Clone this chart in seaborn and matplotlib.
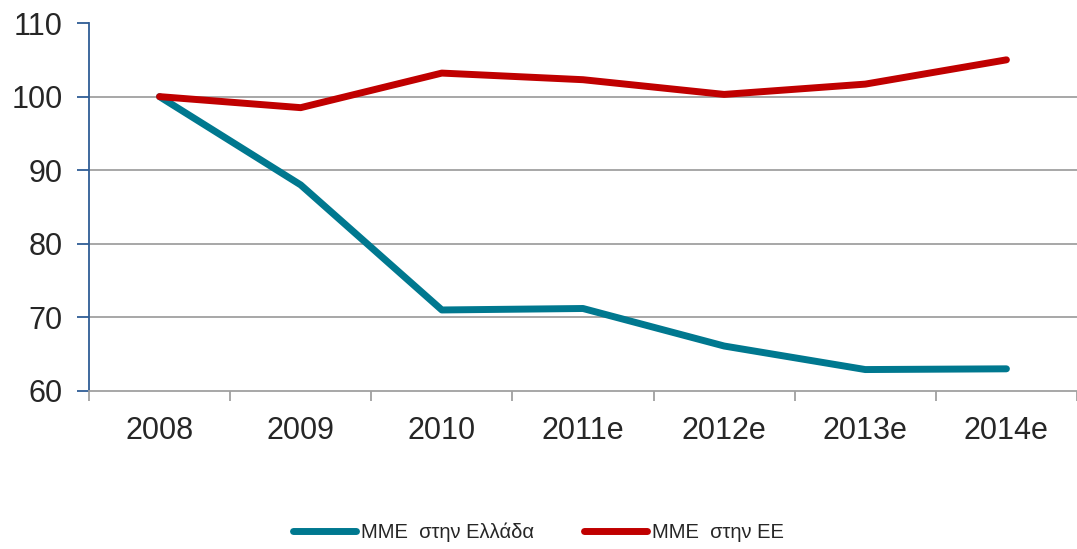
import pandas as pd
import matplotlib.pyplot as plt
import seaborn as sns

years = ['2008', '2009', '2010', '2011e', '2012e', '2013e', '2014e']
greece = [100, 88, 71, 71.2, 66.1, 62.9, 63.0]
eu = [100, 98.5, 103.2, 102.3, 100.3, 101.7, 105.0]
series_names = ['ΜΜΕ  στην Ελλάδα', 'ΜΜΕ  στην ΕΕ']
colors = ['#00788F', '#C00000']

df = pd.DataFrame({
    'x': list(range(len(years))) * 2,
    'value': greece + eu,
    'series': [series_names[0]] * len(years) + [series_names[1]] * len(years),
})

sns.set_style('white')
plt.rcParams['font.family'] = ['Liberation Sans', 'DejaVu Sans']

fig = plt.figure(figsize=(10.77, 5.49), dpi=100)
ax = fig.add_axes([0.0826, 0.288, 0.9174, 0.670])

sns.lineplot(data=df, x='x', y='value', hue='series', palette=colors,
             linewidth=5, solid_capstyle='round', ax=ax, legend=False)

ax.set_xlim(-0.5, len(years) - 0.5)
ax.set_ylim(60, 110)
ax.set_yticks([60, 70, 80, 90, 100, 110])
ax.set_xticks(range(len(years)))
ax.set_xticklabels(years)
ax.set_xticks([i - 0.5 for i in range(len(years) + 1)], minor=True)
ax.set_xlabel('')
ax.set_ylabel('')

for yv in [70, 80, 90, 100]:
    ax.axhline(yv, color='#A0A0A0', linewidth=1.3, zorder=0)

for s in ['top', 'right']:
    ax.spines[s].set_visible(False)
ax.spines['left'].set_color('#2F5D95')
ax.spines['left'].set_linewidth(1.3)
ax.spines['bottom'].set_color('#A0A0A0')
ax.spines['bottom'].set_linewidth(1.3)

ax.tick_params(axis='y', which='major', direction='out', length=9, width=1.3,
               color='#2F5D95', labelsize=22, pad=10, left=True)
ax.tick_params(axis='x', which='major', length=0, labelsize=22, pad=18)
ax.tick_params(axis='x', which='minor', direction='out', length=7, width=1.3,
               color='#A0A0A0', bottom=True)

handles = [plt.Line2D([], [], color=c, linewidth=5, solid_capstyle='round') for c in colors]
fig.legend(handles, series_names, loc='center', bbox_to_anchor=(0.50, 0.03),
           ncol=2, frameon=False, fontsize=14.5, handlelength=3.1,
           handletextpad=0.25, columnspacing=2.5)

fig.savefig('out.png', dpi=100)
